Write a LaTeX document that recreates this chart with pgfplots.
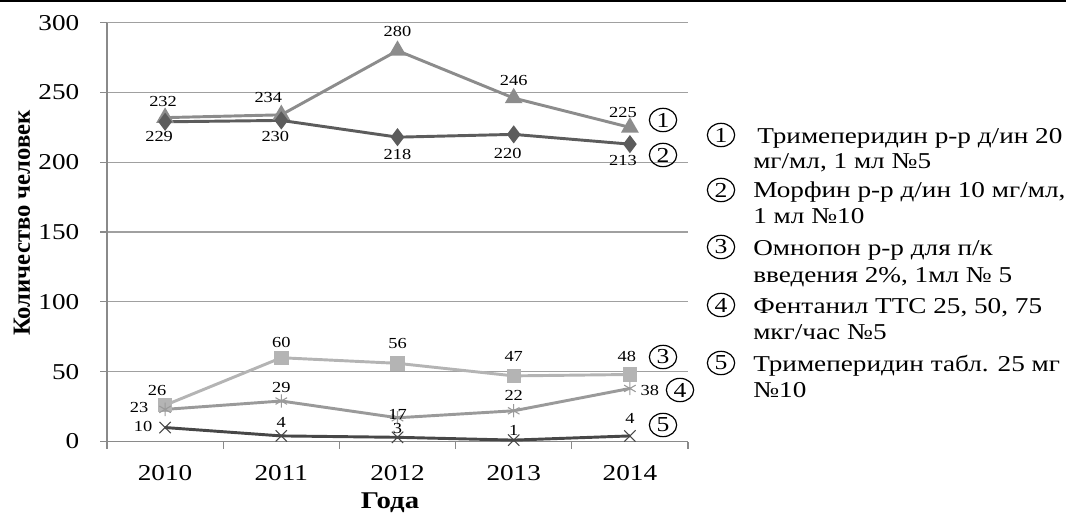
\documentclass[border=0pt]{standalone}
\usepackage{fontspec}
\setmainfont{Liberation Serif}[FakeStretch=1.2]
\newfontfamily\plainserif{Liberation Serif}
\usepackage{pgfplots}
\usepackage{pgfplotstable}
\usetikzlibrary{shapes.geometric}
\pgfplotsset{compat=1.18}

\definecolor{cA}{HTML}{8C8C8C}
\definecolor{cB}{HTML}{5C5C5C}
\definecolor{cC}{HTML}{B4B4B4}
\definecolor{cD}{HTML}{9A9A9A}
\definecolor{cE}{HTML}{474747}
\definecolor{gridc}{HTML}{A0A0A0}
\definecolor{axc}{HTML}{8A8A8A}

\newcommand{\tickfont}{\fontsize{17}{17}\selectfont}
\newcommand{\lblfont}{\fontsize{11.5}{11.5}\selectfont}
\newcommand{\legfont}{\fontsize{17}{17}\selectfont}
\newcommand{\axfont}{\fontsize{18}{18}\selectfont\bfseries}

% x y dx dy  (label offset from point, in px)
\pgfplotstableread{
x y dx dy
0 232 -2 16
1 234 -13 17
2 280 0 19
3 246 0 18
4 225 -7 15
}\sA
\pgfplotstableread{
x y dx dy
0 229 -6 -15
1 230 -6 -16
2 218 0 -17
3 220 -6 -19
4 213 -7 -16
}\sB
\pgfplotstableread{
x y dx dy
0 26 -8 15
1 60 0 15
2 56 0 20
3 47 0 19
4 48 -3 18
}\sC
\pgfplotstableread{
x y dx dy
0 23 -26 2
1 29 0 14
2 17 0 3
3 22 0 15
4 38 20 -2
}\sD
\pgfplotstableread{
x y dx dy
0 10 -22 1
1 4 0 13
2 3 0 9
3 1 0 10
4 4 0 17
}\sE

\pgfplotsset{
  lbl/.style={
    nodes near coords,
    visualization depends on={\thisrow{dx}\as\dx},
    visualization depends on={\thisrow{dy}\as\dy},
    every node near coord/.append style={anchor=center, inner sep=0pt,
      xshift=\dx*0.75pt, yshift=\dy*0.75pt, text=black, font=\lblfont},
  },
}
\tikzset{circnum/.style={draw=black, ellipse, line width=0.9pt, inner sep=0pt,
  minimum width=20.5pt, minimum height=17.5pt, font=\fontsize{16}{16}\selectfont}}

\begin{document}
\begin{tikzpicture}
\begin{scope}[x=0.75pt,y=0.75pt]
\useasboundingbox (0,0) rectangle (1066,515);
\draw[black, line width=1.5pt] (0,514) -- (1066,514);
\end{scope}
\begin{axis}[
  at={(80.25pt,55.125pt)}, anchor=south west,
  scale only axis, width=435.75pt, height=314.1pt,
  xmin=-0.5, xmax=4.5, ymin=0, ymax=300,
  axis lines=left, axis line style={-, draw=axc, line width=0.9pt},
  xtick={0,1,2,3,4}, xticklabels={2010,2011,2012,2013,2014},
  minor xtick={-0.5,0.5,1.5,2.5,3.5,4.5},
  ytick={0,50,...,300},
  tick align=outside,
  major tick length=5.25pt, minor tick length=5.25pt,
  every major x tick/.append style={draw=none},
  tick style={draw=axc, line width=0.9pt},
  ymajorgrids, major grid style={draw=gridc, line width=0.9pt},
  /pgf/number format/assume math mode=true,
  xticklabel style={font=\tickfont, yshift=-9pt},
  yticklabel style={font=\tickfont, xshift=-12pt},
  clip=false,
]
\addplot[cA, line width=2.2pt, mark=triangle*, mark size=5.5pt, lbl] table {\sA};
\addplot[cB, line width=2.2pt, mark=diamond*, mark size=5pt, lbl] table {\sB};
\addplot[cC, line width=2.2pt, mark=square*, mark size=4.3pt, lbl] table {\sC};
\addplot[cD, line width=2.2pt, mark=asterisk, mark size=5pt, mark options={line width=0.8pt}, lbl] table {\sD};
\addplot[cE, line width=2.2pt, mark=x, mark size=6pt, mark options={line width=0.8pt}, lbl] table {\sE};
\end{axis}
\begin{scope}[x=0.75pt,y=0.75pt]
% circled markers next to lines
\node[circnum] at (663,395) {1};
\node[circnum] at (663,360) {2};
\node[circnum] at (663,158) {3};
\node[circnum] at (680,125) {4};
\node[circnum] at (663,90) {5};
% axis titles
\node[font=\plainserif\fontsize{18.5}{18.5}\selectfont\bfseries, rotate=90] at (22,292) {Количество человек};
\node[font=\axfont] at (390,12) {Года};
% legend
\node[circnum] at (721,380) {1};
\node[circnum] at (721,325) {2};
\node[circnum] at (721,268) {3};
\node[circnum] at (721,210) {4};
\node[circnum] at (721,152) {5};
\node[font=\legfont, anchor=base west, inner sep=0pt] at (757,371) {Тримеперидин р-р д/ин 20};
\node[font=\legfont, anchor=base west, inner sep=0pt] at (753,346) {мг/мл, 1 мл №5};
\node[font=\legfont, anchor=base west, inner sep=0pt] at (753,317) {Морфин р-р д/ин 10 мг/мл,};
\node[font=\legfont, anchor=base west, inner sep=0pt] at (753,291) {1 мл №10};
\node[font=\legfont, anchor=base west, inner sep=0pt] at (753,259) {Омнопон р-р для п/к};
\node[font=\legfont, anchor=base west, inner sep=0pt] at (753,232) {введения 2\%, 1мл № 5};
\node[font=\legfont, anchor=base west, inner sep=0pt] at (753,201) {Фентанил ТТС 25, 50, 75};
\node[font=\legfont, anchor=base west, inner sep=0pt] at (753,175) {мкг/час №5};
\node[font=\legfont, anchor=base west, inner sep=0pt] at (753,143) {Тримеперидин табл. 25 мг};
\node[font=\legfont, anchor=base west, inner sep=0pt] at (753,117) {№10};
\end{scope}
\end{tikzpicture}
\end{document}
